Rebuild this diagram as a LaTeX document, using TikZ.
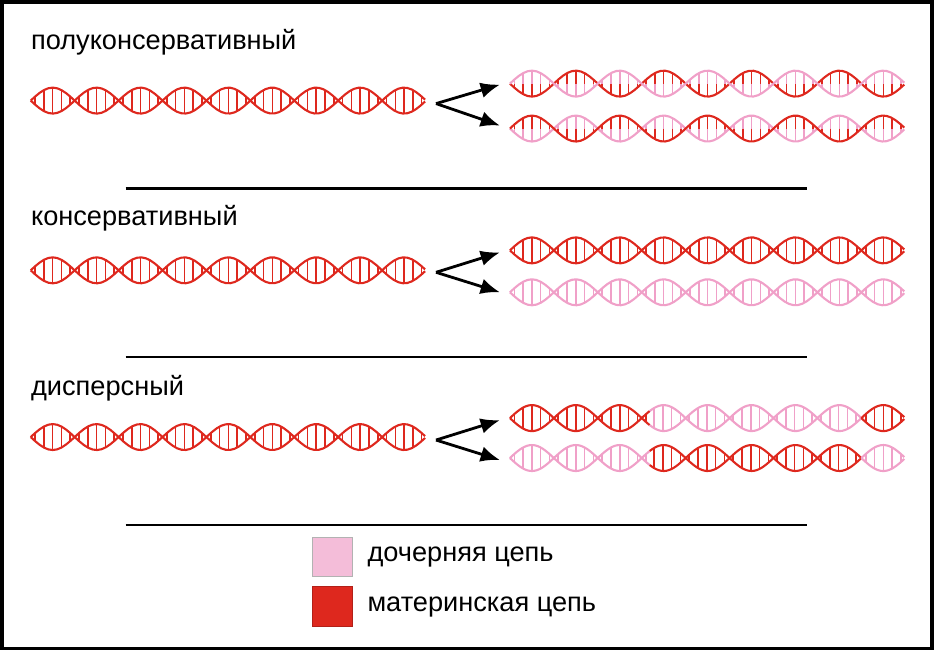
\documentclass[tikz,border=0pt]{standalone}
\usepackage{fontspec}
\setmainfont{Liberation Sans}
\usetikzlibrary{arrows.meta,positioning}
\definecolor{materred}{RGB}{222,40,30}
\definecolor{docherpink}{RGB}{240,160,200}

% helix piece: start, end, y, colour A, colour B, phase origin
\newcommand{\dnapiece}[6]{%
  \draw[#4, line width=1.2pt, domain=#1:#2, samples=90] plot (\x, {#3+13*sin((\x-#6)*4.0909)});
  \draw[#5, line width=1.2pt, domain=#1:#2, samples=90] plot (\x, {#3-13*sin((\x-#6)*4.0909)});
  \pgfmathsetmacro{\rfirst}{#1+4.4}
  \pgfmathsetmacro{\rsecond}{#1+13.2}
  \foreach \r in {\rfirst,\rsecond,...,#2} {
    \pgfmathsetmacro{\amp}{13*sin((\r-#6)*4.0909)}
    \draw[#4, line width=0.9pt] (\r,#3+\amp) -- (\r,#3);
    \draw[#5, line width=0.9pt] (\r,#3) -- (\r,#3-\amp);
  }%
}

\begin{document}
\begin{tikzpicture}[x=0.02cm, y=-0.02cm,
    title/.style={anchor=base west, font=\fontsize{15.5}{18}\selectfont, inner sep=0pt},
    legtext/.style={anchor=west, font=\fontsize{15.5}{18}\selectfont, inner sep=0pt},
    arrow/.style={-{Latex[length=11pt,width=9pt]}, line width=1.6pt},
    sep/.style={line width=1.2pt}
]
\draw[line width=2pt] (1,1) rectangle (933,649);

% titles
\node[title] (semi) at (30,49) {полуконсервативный};
\node[title] (cons) at (30,225) {консервативный};
\node[title] (disp) at (30,395) {дисперсный};

% parent helices
\dnapiece{30}{425}{100}{materred}{materred}{30}
\dnapiece{30}{425}{270}{materred}{materred}{30}
\dnapiece{30}{425}{437}{materred}{materred}{30}

% semiconservative
\dnapiece{510}{905}{83}{materred}{docherpink}{510}
\dnapiece{510}{905}{128}{docherpink}{materred}{510}

% conservative
\dnapiece{510}{905}{250}{materred}{materred}{510}
\dnapiece{510}{905}{292}{docherpink}{docherpink}{510}

% dispersive
\dnapiece{510}{650}{418}{materred}{materred}{510}
\dnapiece{650}{862}{418}{docherpink}{docherpink}{510}
\dnapiece{862}{905}{418}{materred}{materred}{510}
\dnapiece{510}{650}{458}{docherpink}{docherpink}{510}
\dnapiece{650}{862}{458}{materred}{materred}{510}
\dnapiece{862}{905}{458}{docherpink}{docherpink}{510}

% arrows
\coordinate (fork1) at (436,103);
\coordinate (fork2) at (436,272);
\coordinate (fork3) at (436,440);
\coordinate (semitop) at (500,84);
\coordinate (semibot) at (500,125);
\coordinate (constop) at (500,252);
\coordinate (consbot) at (500,292);
\coordinate (disptop) at (500,420);
\coordinate (dispbot) at (500,460);
\draw[arrow] (fork1) -- (semitop);
\draw[arrow] (fork1) -- (semibot);
\draw[arrow] (fork2) -- (constop);
\draw[arrow] (fork2) -- (consbot);
\draw[arrow] (fork3) -- (disptop);
\draw[arrow] (fork3) -- (dispbot);

% separators
\draw[sep] (125,188) -- (808,188);
\draw[sep] (125,357) -- (808,357);
\draw[sep] (125,525) -- (808,525);

% legend
\node[draw=gray!60, fill=docherpink!70, minimum size=0.8cm, inner sep=0pt] (pinkbox) at (332,557) {};
\node[draw=materred!80!black, fill=materred, minimum size=0.8cm, inner sep=0pt] (redbox) at (332,607) {};
\node[legtext] (pinklab) at (367,557) {дочерняя цепь};
\node[legtext] (redlab) at (367,607) {материнская цепь};
\end{tikzpicture}
\end{document}
